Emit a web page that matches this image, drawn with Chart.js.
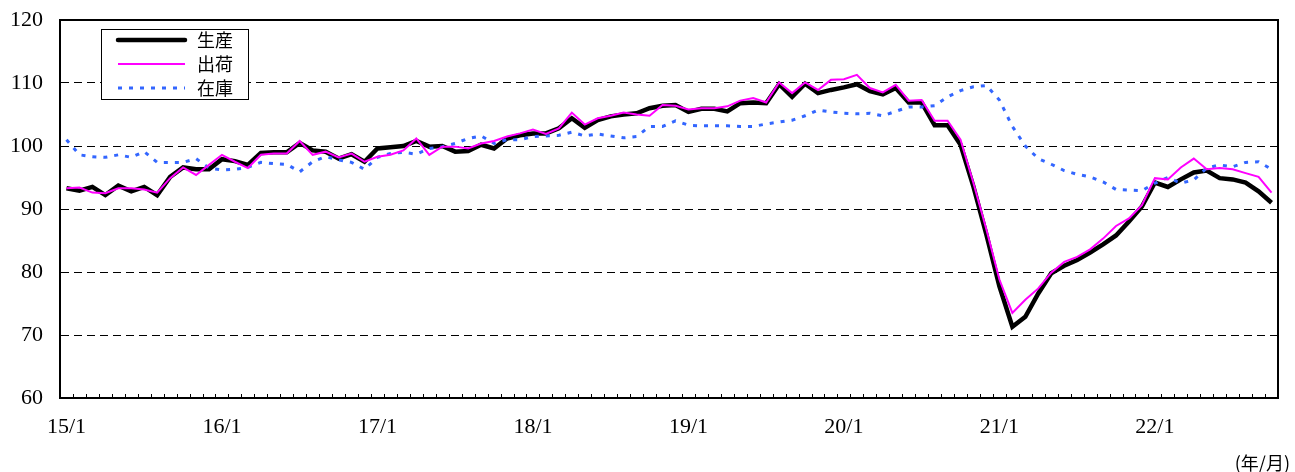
<!DOCTYPE html>
<html>
<head>
<meta charset="utf-8">
<script src="https://cdn.jsdelivr.net/npm/chart.js@4.4.1/dist/chart.umd.min.js"></script>
<style>
  html, body { margin: 0; padding: 0; background: #fff; }
  #wrap { width: 1295px; height: 472px; position: relative; }
</style>
</head>
<body>
<div id="wrap"><canvas id="chart" width="1295" height="472"></canvas></div>
<script>
// Categories: monthly, 15/1 .. 22/10
const years = ['15', '16', '17', '18', '19', '20', '21', '22'];
const lastMonthOfLastYear = 10;
const months = [];
years.forEach((y, yi) => {
  const end = yi === years.length - 1 ? lastMonthOfLastYear : 12;
  for (let m = 1; m <= end; m++) months.push(y + '/' + m);
});

const yTicks = [60, 70, 80, 90, 100, 110, 120];

// 生産
const production = [
  93.3, 92.9, 93.5, 92.2, 93.7, 92.8, 93.5, 92.2, 95.1, 96.6, 96.3, 96.3,
  97.9, 97.6, 97.0, 98.9, 99.0, 99.0, 100.5, 99.3, 99.1, 98.0, 98.7, 97.5,
  99.6, 99.8, 100.0, 100.8, 99.9, 100.0, 99.1, 99.2, 100.2, 99.6, 101.2, 101.7,
  102.0, 102.0, 102.8, 104.4, 102.9, 104.1, 104.7, 105.0, 105.2, 106.0, 106.4, 106.5,
  105.4, 105.9, 105.9, 105.5, 106.8, 106.9, 106.8, 109.8, 107.8, 109.9, 108.4, 108.9,
  109.3, 109.8, 108.7, 108.2, 109.2, 106.9, 106.9, 103.3, 103.3, 100.2, 93.5, 85.9,
  77.7, 71.3, 72.9, 76.6, 79.8, 81.0, 81.9, 83.1, 84.4, 85.8, 88.0, 90.4,
  94.2, 93.5, 94.7, 95.8, 96.1, 94.9, 94.7, 94.2, 92.8, 91.0
];

// 出荷
const shipments = [
  93.3, 93.4, 92.6, 92.5, 93.3, 93.3, 93.1, 92.6, 94.9, 96.6, 95.4, 97.0,
  98.6, 97.5, 96.5, 98.6, 98.8, 98.8, 100.8, 98.6, 99.1, 98.2, 98.8, 97.5,
  98.3, 98.6, 99.3, 101.2, 98.6, 99.9, 99.9, 99.6, 100.4, 100.8, 101.5, 102.0,
  102.6, 101.9, 102.8, 105.3, 103.4, 104.4, 104.8, 105.3, 105.0, 104.8, 106.5, 106.4,
  105.8, 106.0, 106.0, 106.3, 107.2, 107.6, 106.9, 110.1, 108.4, 110.1, 108.9, 110.5,
  110.6, 111.3, 109.2, 108.5, 109.7, 107.2, 107.3, 104.0, 104.0, 101.0, 94.1, 86.7,
  78.8, 73.5, 75.6, 77.4, 79.9, 81.6, 82.4, 83.6, 85.3, 87.3, 88.5, 90.6,
  94.9, 94.7, 96.6, 98.0, 96.3, 96.5, 96.3, 95.7, 95.1, 92.6
];

// 在庫
const inventory = [
  101.0, 98.6, 98.3, 98.2, 98.6, 98.2, 99.1, 97.4, 97.4, 97.4, 98.0, 96.5,
  96.2, 96.3, 96.6, 97.4, 97.2, 97.1, 95.9, 97.5, 98.3, 97.8, 97.4, 96.3,
  98.2, 98.8, 99.0, 98.7, 99.6, 99.9, 100.4, 101.2, 101.6, 100.4, 101.0, 101.0,
  101.5, 101.6, 101.7, 102.2, 101.6, 101.9, 101.6, 101.3, 101.5, 103.1, 103.1, 104.0,
  103.3, 103.2, 103.2, 103.2, 103.1, 103.1, 103.5, 103.8, 104.1, 104.8, 105.7, 105.4,
  105.2, 105.1, 105.2, 104.8, 105.5, 106.2, 106.2, 106.4, 107.8, 108.8, 109.4, 109.6,
  107.3, 103.1, 100.0, 98.0, 97.1, 96.1, 95.5, 95.1, 94.3, 93.1, 93.0, 92.9,
  94.1, 95.0, 94.1, 94.6, 96.5, 97.0, 96.7, 97.4, 97.5, 96.3
];

const serif = "'Liberation Serif', 'DejaVu Serif', serif";
const cjk = "'Noto Sans CJK JP', sans-serif";

// frame, inward month ticks, legend box, unit label
const framePlugin = {
  id: 'frame',
  afterDraw(chart) {
    const { ctx, chartArea: a, scales } = chart;
    const xs = scales.x;
    ctx.save();

    // month ticks pointing up from the bottom axis
    ctx.strokeStyle = '#000';
    ctx.lineWidth = 1;
    ctx.beginPath();
    for (let i = 1; i < months.length; i++) {
      const px = Math.round((xs.getPixelForValue(i - 1) + xs.getPixelForValue(i)) / 2) + 0.5;
      ctx.moveTo(px, a.bottom);
      ctx.lineTo(px, a.bottom - 4);
    }
    ctx.stroke();

    // plot frame
    ctx.lineWidth = 2;
    ctx.strokeRect(a.left, a.top, a.right - a.left, a.bottom - a.top);

    // legend
    const lx = 101, ly = 29, lw = 147, lh = 70;
    ctx.fillStyle = '#fff';
    ctx.fillRect(lx, ly, lw, lh);
    ctx.lineWidth = 1;
    ctx.strokeStyle = '#000';
    ctx.strokeRect(lx + 0.5, ly + 0.5, lw, lh);
    chart.data.datasets.forEach((ds, i) => {
      const y = 40 + i * 24;
      ctx.save();
      ctx.strokeStyle = ds.borderColor;
      ctx.lineWidth = ds.borderWidth;
      ctx.lineCap = i === 0 ? 'round' : 'butt';
      ctx.setLineDash(ds.borderDash || []);
      ctx.beginPath();
      ctx.moveTo(118, y);
      ctx.lineTo(185, y);
      ctx.stroke();
      ctx.restore();
      ctx.fillStyle = '#000';
      ctx.font = '18px ' + cjk;
      ctx.textAlign = 'left';
      ctx.textBaseline = 'middle';
      ctx.fillText(ds.label, 197, y);
    });

    // unit
    ctx.font = '18px ' + cjk;
    ctx.textAlign = 'right';
    ctx.textBaseline = 'middle';
    ctx.fillStyle = '#000';
    ctx.fillText('(年/月)', 1290, 463);
    ctx.restore();
  }
};

const ctx = document.getElementById('chart').getContext('2d');
new Chart(ctx, {
  type: 'line',
  data: {
    labels: months,
    datasets: [
      {
        label: '生産',
        data: production,
        borderColor: '#000000',
        borderWidth: 4.5,
        pointRadius: 0,
        tension: 0,
        order: 3
      },
      {
        label: '出荷',
        data: shipments,
        borderColor: '#ff00ff',
        borderWidth: 2,
        pointRadius: 0,
        tension: 0,
        order: 1
      },
      {
        label: '在庫',
        data: inventory,
        borderColor: '#3366ff',
        borderWidth: 3,
        borderDash: [4, 7],
        pointRadius: 0,
        tension: 0,
        order: 2
      }
    ]
  },
  options: {
    responsive: false,
    animation: false,
    layout: { padding: { top: 20, right: 17, left: 0, bottom: 0 } },
    plugins: {
      legend: { display: false },
      tooltip: { enabled: false }
    },
    scales: {
      x: {
        type: 'category',
        offset: true,
        grid: { display: false, drawTicks: false },
        border: { display: true, color: '#000', width: 2 },
        ticks: {
          autoSkip: false,
          maxRotation: 0,
          padding: 16,
          color: '#000',
          font: { family: serif, size: 22 },
          callback: (v, i) => (months[i].endsWith('/1') ? months[i] : '')
        },
        afterFit: s => { s.height = 74; s.paddingLeft = 0; s.paddingRight = 0; }
      },
      y: {
        min: yTicks[0],
        max: yTicks[yTicks.length - 1],
        afterBuildTicks: s => { s.ticks = yTicks.map(v => ({ value: v })); },
        grid: { color: '#000', lineWidth: 1, drawTicks: false },
        border: { display: true, color: '#000', width: 2, dash: [8, 5] },
        ticks: {
          padding: 17,
          color: '#000',
          font: { family: serif, size: 22 }
        },
        afterFit: s => { s.width = 60; s.paddingTop = 0; s.paddingBottom = 0; }
      }
    }
  },
  plugins: [framePlugin]
});
</script>
</body>
</html>
